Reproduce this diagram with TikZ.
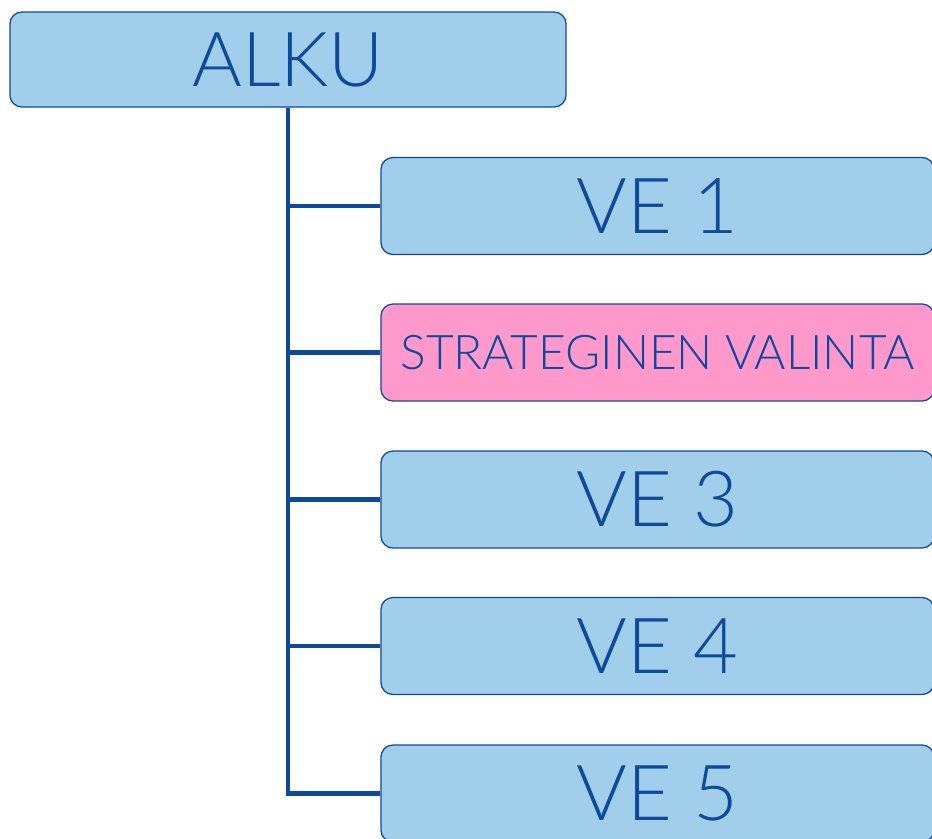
\documentclass[tikz,border=0pt]{standalone}
\usepackage{fontspec}
\setmainfont{Lato}[UprightFont=* Light]
\definecolor{viiva}{HTML}{0D4A9C}
\definecolor{sininen}{HTML}{A0CEEB}
\definecolor{pinkki}{HTML}{FF99CC}

\begin{document}
\begin{tikzpicture}[x=0.025cm, y=-0.025cm,
    laatikko/.style = {draw=viiva, line width=0.9pt, fill=sininen, rounded corners=0.3cm,
        text=viiva, minimum width=13.825cm, minimum height=2.425cm, inner sep=0pt},
    haara/.style = {draw=viiva, line width=3pt}]
    \clip (0,0) rectangle (932,838);
    \node[laatikko, minimum width=13.9cm, minimum height=2.375cm, font=\fontsize{54}{60}\selectfont] (alku) at (288,59.5) {ALKU};
    \node[laatikko, font=\fontsize{55}{60}\selectfont] (ve1) at (657.5,206) {VE 1};
    \node[laatikko, fill=pinkki, font=\fontsize{34}{40}\selectfont] (valinta) at (657.5,352.5) {STRATEGINEN VALINTA};
    \node[laatikko, font=\fontsize{55}{60}\selectfont] (ve3) at (657.5,499.5) {VE 3};
    \node[laatikko, font=\fontsize{55}{60}\selectfont] (ve4) at (657.5,646) {VE 4};
    \node[laatikko, font=\fontsize{55}{60}\selectfont] (ve5) at (657.5,793.5) {VE 5};
    % haarat
    \draw[haara] (alku.south) |- (ve5.west);
    \draw[haara] (alku.south |- ve1.west) -- (ve1.west);
    \draw[haara] (alku.south |- valinta.west) -- (valinta.west);
    \draw[haara] (alku.south |- ve3.west) -- (ve3.west);
    \draw[haara] (alku.south |- ve4.west) -- (ve4.west);
\end{tikzpicture}
\end{document}
